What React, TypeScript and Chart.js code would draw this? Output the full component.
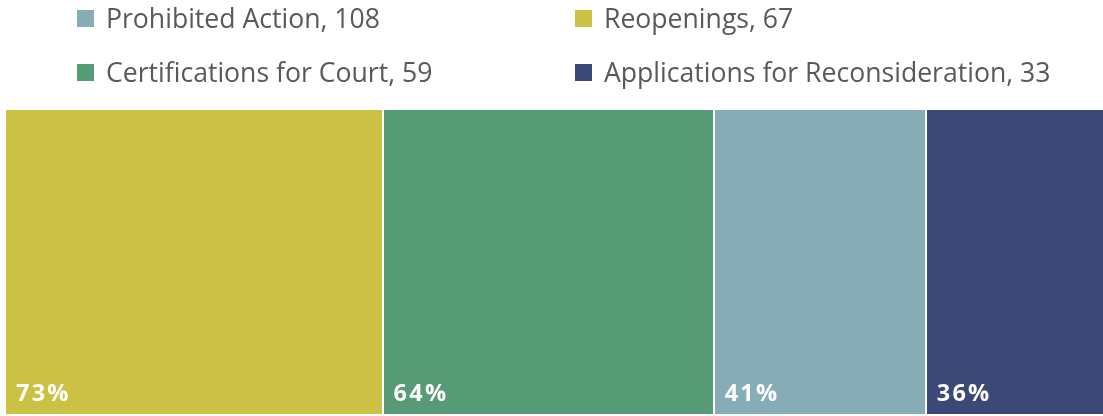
import React, { useEffect, useRef } from "react";
import { Chart, registerables } from "chart.js";

Chart.register(...registerables);

// Legend (ordered by count)
const legendLabels = [
  "Prohibited Action",
  "Reopenings",
  "Certifications for Court",
  "Applications for Reconsideration",
];
const legendCounts = [108, 67, 59, 33];
const legendColors = ["#86ADB5", "#CBC144", "#569A76", "#3C4875"];

// Bars (ordered by percentage)
const barLabels = [
  "Reopenings",
  "Certifications for Court",
  "Prohibited Action",
  "Applications for Reconsideration",
];
const barPercents = [73, 64, 41, 36];
const barColors = ["#CBC144", "#569A76", "#86ADB5", "#3C4875"];

const FONT = "'Open Sans', 'Noto Sans', sans-serif";

const percentLabelPlugin = {
  id: "percentLabels",
  afterDatasetsDraw(chart: any) {
    const { ctx, chartArea } = chart;
    ctx.save();
    ctx.fillStyle = "#FFFFFF";
    ctx.font = `bold 23.5px ${FONT}`;
    try {
      (ctx as any).letterSpacing = "2.2px";
    } catch (e) {}
    ctx.textAlign = "left";
    ctx.textBaseline = "alphabetic";
    chart.data.datasets.forEach((ds: any, i: number) => {
      const meta = chart.getDatasetMeta(i);
      const el: any = meta.data[0];
      if (!el) return;
      const start = Math.min(el.base, el.x);
      ctx.fillText(`${ds.data[0]}%`, start + 10, chartArea.bottom - 13);
    });
    ctx.restore();
  },
};

export default function App() {
  const canvasRef = useRef<HTMLCanvasElement | null>(null);

  useEffect(() => {
    if (!canvasRef.current) return;
    const total = barPercents.reduce((a, b) => a + b, 0);
    const chart = new Chart(canvasRef.current, {
      type: "bar",
      data: {
        labels: [""],
        datasets: barLabels.map((label, i) => ({
          label,
          data: [barPercents[i]],
          backgroundColor: barColors[i],
          borderColor: "#FFFFFF",
          borderWidth: { top: 0, bottom: 0, left: 0, right: 2 },
          borderSkipped: false,
          barPercentage: 1,
          categoryPercentage: 1,
        })),
      },
      options: {
        indexAxis: "y",
        animation: false,
        responsive: false,
        maintainAspectRatio: false,
        layout: { padding: { top: 110, bottom: 2, left: 6, right: 0 } },
        scales: {
          x: { display: false, stacked: true, min: 0, max: total },
          y: { display: false, stacked: true },
        },
        plugins: {
          legend: { display: false },
          tooltip: { enabled: false },
        },
      },
      plugins: [percentLabelPlugin],
    });
    return () => chart.destroy();
  }, []);

  const colLeft = [77, 575];
  const rowCenter = [18, 72];

  return (
    <div
      style={{
        position: "absolute",
        left: 0,
        top: 0,
        width: 1103,
        height: 416,
        overflow: "hidden",
        background: "#FFFFFF",
      }}
    >
      <canvas
        ref={canvasRef}
        width={1113}
        height={416}
        style={{ position: "absolute", left: 0, top: 0, width: 1113, height: 416 }}
      />
      {legendLabels.map((label, i) => (
        <div
          key={label}
          style={{
            position: "absolute",
            left: colLeft[i % 2],
            top: rowCenter[Math.floor(i / 2)] - 20,
            height: 40,
            display: "flex",
            alignItems: "center",
            whiteSpace: "nowrap",
            fontFamily: FONT,
            fontSize: 26.6,
            lineHeight: "40px",
            color: "#595959",
          }}
        >
          <span
            style={{
              display: "inline-block",
              width: 17,
              height: 17,
              background: legendColors[i],
              marginRight: 12,
              flex: "none",
            }}
          />
          <span>{`${label}, ${legendCounts[i]}`}</span>
        </div>
      ))}
    </div>
  );
}
